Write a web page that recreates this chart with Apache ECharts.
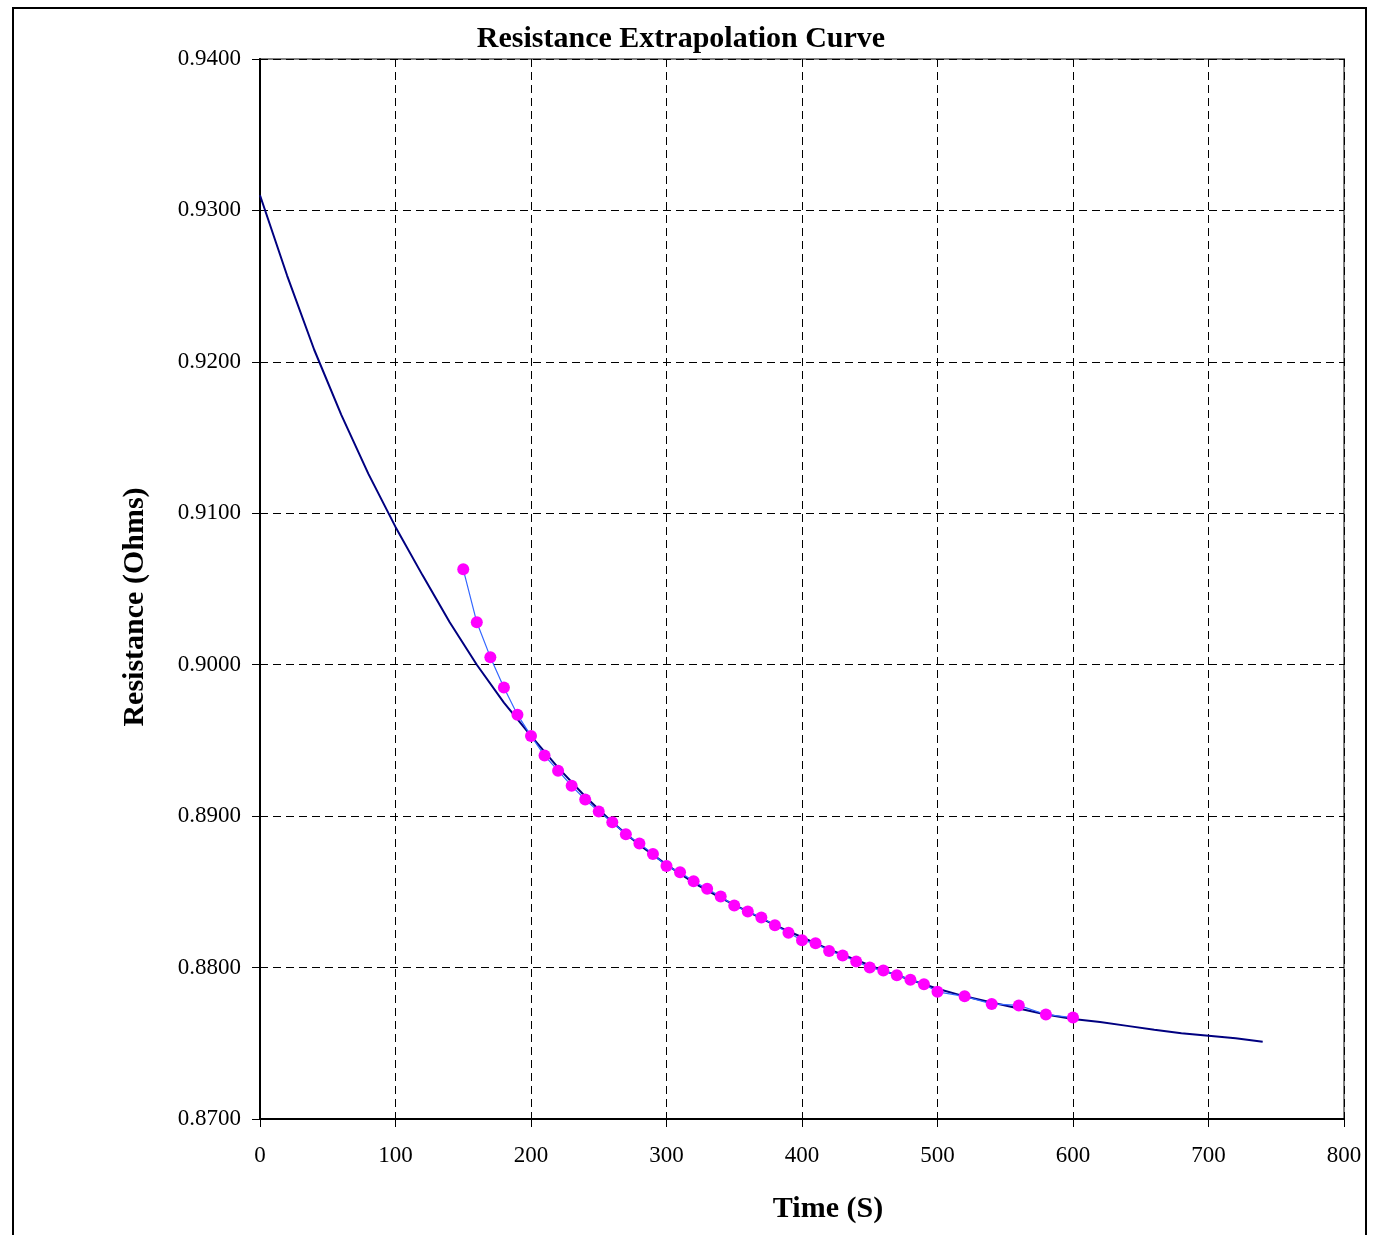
<!DOCTYPE html>
<html>
<head>
<meta charset="utf-8">
<script src="https://cdn.jsdelivr.net/npm/echarts@6/dist/echarts.min.js"></script>
<style>
html,body{margin:0;padding:0;background:#fff;}
#chart{width:1380px;height:1235px;}
</style>
</head>
<body>
<div id="chart"></div>
<script>
// Measured data (Time in s, Resistance in Ohms)
var measuredTime = [150,160,170,180,190,200,210,220,230,240,250,260,270,280,290,300,310,320,330,340,350,360,370,380,390,400,410,420,430,440,450,460,470,480,490,500,520,540,560,580,600];
var measuredRes = [0.9063,0.9028,0.9005,0.8985,0.8967,0.8953,0.8940,0.8930,0.8920,0.8911,0.8903,0.8896,0.8888,0.8882,0.8875,0.8867,0.8863,0.8857,0.8852,0.8847,0.8841,0.8837,0.8833,0.8828,0.8823,0.8818,0.8816,0.8811,0.8808,0.8804,0.8800,0.8798,0.8795,0.8792,0.8789,0.8784,0.8781,0.8776,0.8775,0.8769,0.8767];

// Extrapolation (fit) curve
var fitTime = [0,20,40,60,80,100,120,140,160,180,200,220,240,260,280,300,320,340,360,380,400,420,440,460,480,500,520,540,560,580,600,620,640,660,680,700,720,740];
var fitRes = [0.9310,0.9257,0.9208,0.9165,0.9126,0.9091,0.9059,0.9028,0.9000,0.8975,0.8953,0.8932,0.8913,0.8896,0.8881,0.8868,0.8856,0.8846,0.8837,0.8828,0.8820,0.8812,0.8805,0.8798,0.8792,0.8786,0.8781,0.8777,0.8773,0.8769,0.87660,0.87640,0.87615,0.87590,0.87566,0.87550,0.87533,0.87510];

var xTicks = {min:0, max:800, interval:100};
var yTicks = {min:0.87, max:0.94, interval:0.01};

function zip(a,b){ return a.map(function(v,i){ return [v,b[i]]; }); }

var chart = echarts.init(document.getElementById('chart'), null, {renderer:'canvas'});
var serif = '"Liberation Serif","Times New Roman",serif';
chart.setOption({
  animation:false,
  backgroundColor:'#ffffff',
  grid:{left:260, right:36, top:59, bottom:116, show:true, borderColor:'#808080', borderWidth:2, backgroundColor:'transparent'},
  xAxis:{
    type:'value', min:xTicks.min, max:xTicks.max, interval:xTicks.interval,
    axisLine:{show:true, onZero:false, lineStyle:{color:'#000', width:2}},
    axisTick:{show:true, length:8, lineStyle:{color:'#000', width:1}},
    axisLabel:{color:'#000', fontFamily:serif, fontSize:23, margin:25},
    splitLine:{show:true, lineStyle:{color:'#000', type:[8,5], width:1}}
  },
  yAxis:{
    type:'value', min:yTicks.min, max:yTicks.max, interval:yTicks.interval,
    axisLine:{show:true, onZero:false, lineStyle:{color:'#000', width:2}},
    axisTick:{show:true, length:8, lineStyle:{color:'#000', width:1}},
    axisLabel:{color:'#000', fontFamily:serif, fontSize:23, margin:19, formatter:function(v){return v.toFixed(4);}},
    splitLine:{show:true, lineStyle:{color:'#000', type:[8,5], width:1}}
  },
  graphic:[
    {type:'rect', shape:{x:13, y:8, width:1353, height:1240}, style:{fill:'none', stroke:'#000', lineWidth:2}, silent:true, z:-1},
    {type:'text', x:681, y:39, style:{text:'Resistance Extrapolation Curve', font:'bold 30px '+serif, fill:'#000', textAlign:'center', textVerticalAlign:'middle'}},
    {type:'text', x:828, y:1209, style:{text:'Time (S)', font:'bold 30px '+serif, fill:'#000', textAlign:'center', textVerticalAlign:'middle'}},
    {type:'text', x:135, y:607, rotation:Math.PI/2, style:{text:'Resistance (Ohms)', font:'bold 30px '+serif, fill:'#000', textAlign:'center', textVerticalAlign:'middle'}}
  ],
  series:[
    {type:'line', data:zip(fitTime, fitRes), showSymbol:false, symbol:'none', smooth:false,
     lineStyle:{color:'#000080', width:2}, z:2},
    {type:'line', data:zip(measuredTime, measuredRes), symbol:'circle', symbolSize:12, showSymbol:true,
     lineStyle:{color:'#3366ff', width:1.2}, itemStyle:{color:'#ff00ff', borderWidth:0}, z:3}
  ]
});
</script>
</body>
</html>
